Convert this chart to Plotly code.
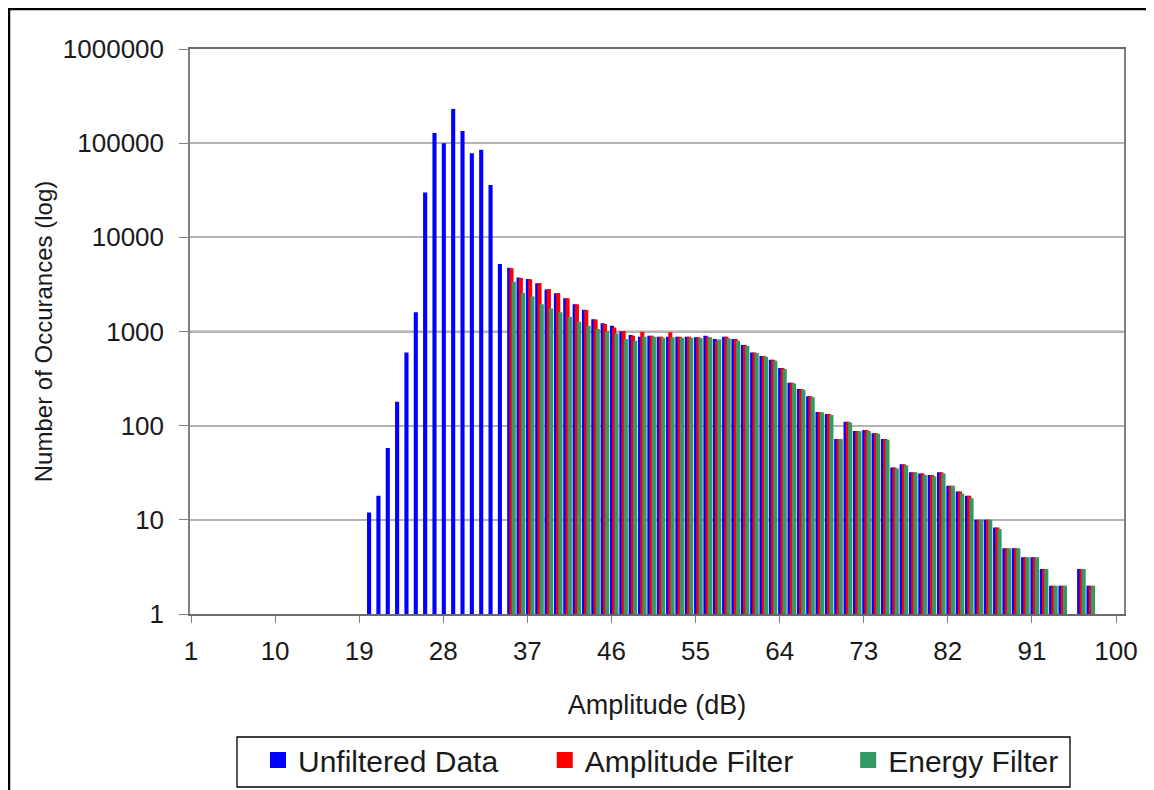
import plotly.graph_objects as go

# ---- data ----
amplitudes = list(range(1, 101))
x_tick_values = [1, 10, 19, 28, 37, 46, 55, 64, 73, 82, 91, 100]
y_tick_values = [1, 10, 100, 1000, 10000, 100000, 1000000]
y_tick_labels = ["1", "10", "100", "1000", "10000", "100000", "1000000"]

# Unfiltered Data: amplitudes 20..97
unfiltered_start = 20
unfiltered = [12, 18, 58, 180, 600, 1600, 30000, 128000, 100000, 230000,
              135000, 78000, 85000, 36000, 5200,
              4750, 3750, 3600, 3250, 2800, 2550, 2250, 1950, 1700, 1350,
              1220, 1150, 1000, 920, 880, 900, 880, 880, 880, 880,
              870, 900, 830, 880, 830, 720, 600, 550, 500, 410,
              285, 245, 205, 140, 133, 72, 110, 88, 90, 83,
              72, 36, 39, 32, 31, 30, 32, 23, 20, 18,
              10, 10, 8.3, 5, 5, 4, 4, 3, 2, 2,
              None, 3, 2]

# Amplitude Filter: amplitudes 35..97
filtered_start = 35
amplitude_filter = [4700, 3700, 3580, 3270, 2820, 2560, 2250, 1950, 1690, 1340,
                    1200, 1100, 1010, 900, 995, 900, 880, 980, 880, 880,
                    870, 880, 800, 880, 830, 720, 600, 550, 500, 410,
                    285, 245, 205, 140, 133, 72, 110, 88, 90, 83,
                    72, 36, 39, 32, 31, 30, 32, 23, 20, 18,
                    10, 10, 8.3, 5, 5, 4, 4, 3, 2, 2,
                    None, 3, 2]

# Energy Filter: amplitudes 35..97
energy_filter = [3380, 2580, 2360, 1950, 1760, 1600, 1430, 1270, 1150, 1060,
                 1000, 950, 830, 800, 880, 880, 860, 870, 860, 860,
                 850, 870, 820, 850, 800, 700, 590, 540, 490, 400,
                 280, 240, 200, 138, 130, 72, 108, 87, 88, 82,
                 71, 35, 38, 32, 30, 29, 31, 23, 19, 17,
                 10, 10, 8, 5, 5, 4, 4, 3, 2, 2,
                 None, 3, 2]

series_names = ["Unfiltered Data", "Amplitude Filter", "Energy Filter"]
series_colors = ["#0000FF", "#FF0000", "#339966"]
legend_pad = [5, 6, 0]   # non-breaking spaces after each legend label


def expand(start, values):
    full = [None] * len(amplitudes)
    for i, v in enumerate(values):
        full[start - 1 + i] = v
    return full


series_values = [expand(unfiltered_start, unfiltered),
                 expand(filtered_start, amplitude_filter),
                 expand(filtered_start, energy_filter)]

bar_width = 0.44
bar_offsets = [-0.16, 0.08, 0.32]

FONT = "Arial, 'Liberation Sans', sans-serif"
TXT = "#1a1a1a"

fig = go.Figure()
for name, vals, col, off in zip(series_names, series_values, series_colors, bar_offsets):
    fig.add_trace(go.Bar(
        x=amplitudes, y=vals, name=name, showlegend=False,
        marker=dict(color=col, line=dict(width=0)),
        width=bar_width, offset=off,
    ))
# legend-only entries (bigger square swatches, as in the reference)
for name, col, pad in zip(series_names, series_colors, legend_pad):
    fig.add_trace(go.Scatter(
        x=[None], y=[None], mode="markers", name=name + "\u00a0" * pad,
        marker=dict(symbol="square", size=16, color=col),
    ))

# page body adds an 8px margin, so the figure is sized to fit the window
W, H = 1146, 782
L, R, T, B = 182, 30, 41, 176
pw, ph = W - L - R, H - T - B


def px_x(p):
    return (p - L) / pw


def px_y(p):
    return (H - B - p) / ph


shapes = []
# darker alternate grid lines
for frac in [5 / 6, 3 / 6, 1 / 6]:
    shapes.append(dict(type="line", xref="paper", yref="paper",
                       x0=0, x1=1, y0=frac, y1=frac,
                       line=dict(color="#5a5a5a", width=1.3), layer="below"))
# legend box
shapes.append(dict(type="rect", xref="paper", yref="paper",
                   x0=px_x(229), x1=px_x(1062), y0=px_y(779), y1=px_y(729),
                   line=dict(color="black", width=1.3), fillcolor="white",
                   layer="below"))
# outer frame
shapes.append(dict(type="rect", xref="paper", yref="paper",
                   x0=px_x(1), x1=px_x(1142), y0=px_y(795), y1=px_y(1),
                   line=dict(color="black", width=2.5), fillcolor="rgba(0,0,0,0)"))

fig.update_layout(
    width=W, height=H,
    margin=dict(l=L, r=R, t=T, b=B, pad=0, autoexpand=False),
    paper_bgcolor="white", plot_bgcolor="white",
    barmode="overlay",
    font=dict(family=FONT, color=TXT, size=24),
    shapes=shapes,
    showlegend=True,
    legend=dict(orientation="h", x=px_x(250), xanchor="left",
                y=px_y(726), yanchor="top",
                borderwidth=0, bgcolor="rgba(0,0,0,0)",
                font=dict(size=30, family=FONT, color=TXT),
                itemwidth=30, itemsizing="trace"),
    xaxis=dict(type="linear", range=[0.893, 100.856],
               tickmode="array", tickvals=x_tick_values,
               ticktext=[str(v) for v in x_tick_values],
               ticks="outside", ticklen=7, tickcolor="#808080", tickwidth=1.2,
               showgrid=False, zeroline=False, automargin=False,
               showline=True, linecolor="#6a6a6a", linewidth=1.5, mirror=True,
               tickfont=dict(size=26, family=FONT, color=TXT),
               ticklabelstandoff=6,
               title=dict(text="Amplitude (dB)", standoff=30,
                          font=dict(size=27, family=FONT, color=TXT))),
    yaxis=dict(type="log", range=[0, 6],
               tickmode="array", tickvals=y_tick_values, ticktext=y_tick_labels,
               ticks="outside", ticklen=9, tickcolor="#808080", tickwidth=1.2,
               showgrid=True, gridcolor="#b4b4b4", gridwidth=1.6,
               zeroline=False, automargin=False,
               showline=True, linecolor="#808080", linewidth=1.5, mirror=True,
               tickfont=dict(size=26, family=FONT, color=TXT),
               ticklabelstandoff=10,
               title=dict(text="Number of Occurances (log)", standoff=3,
                          font=dict(size=24, family=FONT, color=TXT))),
)

fig.write_html("out.html")
